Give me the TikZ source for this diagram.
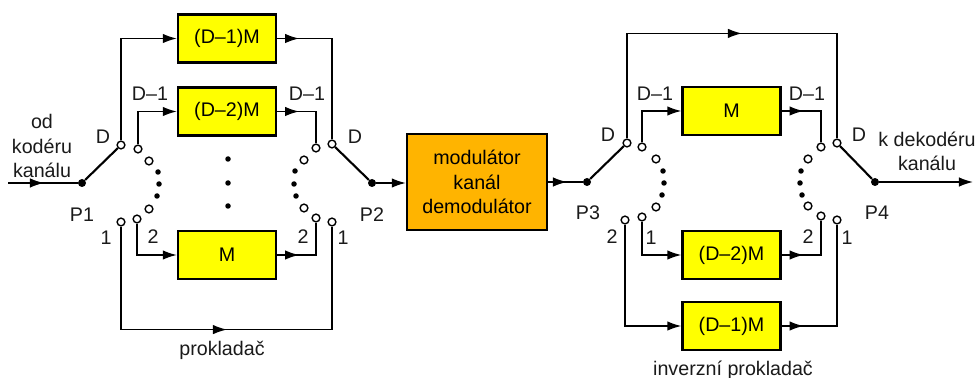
\documentclass[tikz,border=0pt]{standalone}
\usepackage{fontspec}
\setmainfont{Liberation Sans}
\usetikzlibrary{arrows.meta,calc}
\definecolor{boxyellow}{HTML}{FFFF00}
\definecolor{modorange}{HTML}{FFB400}
\definecolor{ink}{HTML}{1A1A1A}
\begin{document}
\begin{tikzpicture}[x=0.02cm,y=-0.02cm,
  font=\fontsize{11.2pt}{13.8pt}\selectfont,
  wire/.style={line width=0.85pt},
  tip/.style={-{Latex[length=8pt,width=5.4pt]}},
  delay/.style={draw,fill=boxyellow,line width=1.3pt,minimum width=1.96cm,minimum height=0.96cm,inner sep=0},
  channel/.style={draw,fill=modorange,line width=1.3pt,minimum width=2.8cm,minimum height=1.92cm,inner sep=0,align=center},
  contact/.style={circle,draw,fill=white,line width=0.8pt,inner sep=0,minimum size=0.155cm},
  pivot/.style={circle,fill=black,inner sep=0,minimum size=0.16cm},
  gap/.style={circle,fill=black,inner sep=0,minimum size=0.11cm},
  arm/.style={line width=1.2pt},
  lbl/.style={inner sep=0,text=ink,align=center}]
\useasboundingbox (0,0) rectangle (980,378);

% ---------- interleaver (prokladac) ----------
\node[delay] (bA) at (227,38.5) {(D–1)M};
\node[delay] (bB) at (227,111.5) {(D–2)M};
\node[delay] (bC) at (227,255) {M};
\node[gap] (mA) at (228,159) {};
\node[gap] (mB) at (228,183) {};
\node[gap] (mC) at (228,206) {};

% switch P1 contacts
\foreach \n/\x/\y in {aD/121/145, aE/138/149, aF/149/161, aG/149/209, a2/137/219, a1/121/222}
  \node[contact] (\n) at (\x,\y) {};
\foreach \n/\x/\y in {aa/158/172, ab/159/184, ac/157/196}
  \node[gap] (\n) at (\x,\y) {};
% switch P2 contacts
\foreach \n/\x/\y in {cD/332/144, cE/316/148, cF/304/160, cG/304/208, c2/316/218, c1/332/222}
  \node[contact] (\n) at (\x,\y) {};
\foreach \n/\x/\y in {ca/295/171, cb/294/184, cc/296/196}
  \node[gap] (\n) at (\x,\y) {};

\node[pivot] (P1) at (82,183) {};
\node[pivot] (P2) at (372,183) {};
\coordinate (in) at (8,183);

\draw[wire] (in) -- (P1);
\draw[wire,tip] (in) -- (44,183);
\draw[arm] (P1) -- (aD);
\draw[arm] (P2) -- (cD);

\draw[wire,tip] (aD.north) |- (bA.west);
\draw[wire,tip] (aE.north) |- (bB.west);
\draw[wire,tip] (a2.south) |- (bC.west);
\draw[wire] (bA.east) -| (cD.north);
\draw[wire] (bB.east) -| (cE.north);
\draw[wire] (bC.east) -| (c2.south);
\foreach \b in {bA,bB,bC}
  \draw[wire,tip] (\b.east) -- ++(22,0);
\draw[wire] (a1.south) -- ++(0,103) coordinate (lb) -| (c1.south);
\draw[wire,tip] (lb) -- ++(106,0);

% ---------- channel ----------
\node[channel] (ch) at (477,182) {modulátor\\kanál\\demodulátor};
\draw[wire,tip] (P2) -- (ch.west |- P2);

% ---------- deinterleaver (inverzni prokladac) ----------
\node[delay] (dA) at (731.5,111) {M};
\node[delay] (dB) at (731.5,255) {(D–2)M};
\node[delay] (dC) at (731.5,326) {(D–1)M};

\foreach \n/\x/\y in {qD/627/143, qE/642/147, qF/656/159, qG/656/207, q1/642/217, q2/625/220}
  \node[contact] (\n) at (\x,\y) {};
\foreach \n/\x/\y in {qa/663/171, qb/664/183, qc/662/195}
  \node[gap] (\n) at (\x,\y) {};
\foreach \n/\x/\y in {sD/837/143, sE/821/147, sF/808/159, sG/808/206, s2/821/216, s1/837/220}
  \node[contact] (\n) at (\x,\y) {};
\foreach \n/\x/\y in {sa/801/171, sb/800/183, sc/802/195}
  \node[gap] (\n) at (\x,\y) {};

\node[pivot] (P3) at (587,182) {};
\node[pivot] (P4) at (875,182) {};
\coordinate (out) at (973,182);

\draw[wire] (ch.east |- P3) -- (P3);
\draw[wire,tip] (ch.east |- P3) -- (567,182);
\draw[arm] (P3) -- (qD);
\draw[arm] (P4) -- (sD);
\draw[wire,tip] (P4) -- (out);

\draw[wire] (qD.north) -- ++(0,-105) coordinate (tl) -| (sD.north);
\draw[wire,tip] (tl) -- ++(115,0);
\draw[wire,tip] (qE.north) |- (dA.west);
\draw[wire,tip] (q1.south) |- (dB.west);
\draw[wire,tip] (q2.south) |- (dC.west);
\draw[wire] (dA.east) -| (sE.north);
\draw[wire] (dB.east) -| (s2.south);
\draw[wire] (dC.east) -| (s1.south);
\foreach \b in {dA,dB,dC}
  \draw[wire,tip] (\b.east) -- ++(22,0);

% ---------- labels ----------
\node[lbl] (tsrc) at (42,146) {od\\kodéru\\kanálu};
\node[lbl] (tdst) at (927,151) {k dekodéru\\kanálu};

\node[lbl] (l1) at (103,137) {D};
\node[lbl] (l2) at (150,94) {D–1};
\node[lbl] (l3) at (82,215) {P1};
\node[lbl] (l4) at (106,238) {1};
\node[lbl] (l5) at (153,237) {2};

\node[lbl] (l6) at (355,137) {D};
\node[lbl] (l7) at (307,94) {D–1};
\node[lbl] (l8) at (372,215) {P2};
\node[lbl] (l9) at (343,238) {1};
\node[lbl] (l10) at (303,237) {2};

\node[lbl] (l11) at (608,135) {D};
\node[lbl] (l12) at (655,94) {D–1};
\node[lbl] (l13) at (588,213) {P3};
\node[lbl] (l14) at (612,237) {2};
\node[lbl] (l15) at (651,238) {1};

\node[lbl] (l16) at (859,135) {D};
\node[lbl] (l17) at (807,94) {D–1};
\node[lbl] (l18) at (877,213) {P4};
\node[lbl] (l19) at (808,237) {2};
\node[lbl] (l20) at (847,238) {1};

\node[lbl] (tp) at (222,350) {prokladač};
\node[lbl] (tip) at (733,370) {inverzní prokladač};
\end{tikzpicture}
\end{document}
